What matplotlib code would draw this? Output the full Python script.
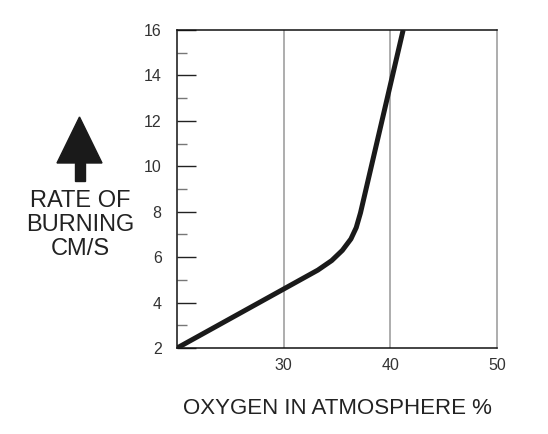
import numpy as np
import matplotlib.pyplot as plt
from matplotlib.patches import Polygon

plt.rcParams['font.family'] = ['Liberation Sans', 'DejaVu Sans']

# data
oxygen = [20, 33.2, 34.5, 35.5, 36.3, 36.8, 37.2, 41.2]
rate = [2, 5.43, 5.85, 6.3, 6.8, 7.3, 7.95, 16]
x_ticks = [30, 40, 50]
y_ticks = [2, 4, 6, 8, 10, 12, 14, 16]
y_minor = [3, 5, 7, 9, 11, 13, 15]

fig = plt.figure(figsize=(5.48, 4.34), dpi=100)
ax = fig.add_axes([0.323, 0.198, 0.584, 0.733])

ax.plot(oxygen, rate, color='#1a1a1a', lw=3.6, solid_capstyle='butt', zorder=3)
for xv in [30, 40]:
    ax.axvline(xv, color='#a0a0a0', lw=1.2, zorder=1)

ax.set_xlim(20, 50)
ax.set_ylim(2, 16)
ax.set_xticks(x_ticks)
ax.set_yticks(y_ticks)
ax.set_yticks(y_minor, minor=True)
ax.tick_params(axis='x', length=0, pad=7, labelsize=11.5, labelcolor='#333333')
ax.tick_params(axis='y', which='major', direction='in', length=14, width=1,
               color='#222222', pad=11, labelsize=11.5, labelcolor='#333333')
ax.tick_params(axis='y', which='minor', direction='in', length=7, width=1,
               color='#777777')
ax.yaxis.get_major_ticks()[2].tick1line.set_color('#999999')

for side in ['left', 'top', 'bottom']:
    ax.spines[side].set_color('#111111')
    ax.spines[side].set_linewidth(1.1)
ax.spines['right'].set_color('#a0a0a0')
ax.spines['right'].set_linewidth(1.2)

ax.set_xlabel('OXYGEN IN ATMOSPHERE %', fontsize=16, color='#222222', labelpad=18)

# y label with arrow, in figure pixel coordinates
H = 434
tri = Polygon([(57, H - 163), (102, H - 163), (79.5, H - 117)], closed=True,
              transform=None, color='#1a1a1a')
stem = Polygon([(75, H - 163), (85, H - 163), (85, H - 181), (75, H - 181)],
               closed=True, transform=None, color='#1a1a1a')
fig.patches.extend([tri, stem])
fig.text(80 / 548, 1 - 225 / H, 'RATE OF\nBURNING\nCM/S', ha='center', va='center',
         fontsize=17, color='#222222', linespacing=1.12)

fig.savefig('out.png', dpi=100)
